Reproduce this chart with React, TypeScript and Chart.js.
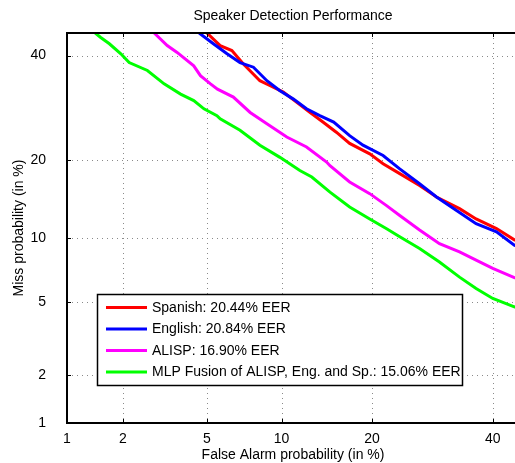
import React, { useEffect, useRef } from "react";
import { Chart, registerables } from "chart.js";

Chart.register(...registerables);

// ---- data (percent values) ----
const TITLE = "Speaker Detection Performance";
const X_LABEL = "False Alarm probability (in %)";
const Y_LABEL = "Miss probability (in %)";
const TICKS = [1, 2, 5, 10, 20, 40];
const AXIS_MIN = 1;
const AXIS_MAX = 45;

const SERIES_NAMES = [
  "Spanish: 20.44% EER",
  "English: 20.84% EER",
  "ALISP: 16.90% EER",
  "MLP Fusion of ALISP, Eng. and Sp.: 15.06% EER",
];
const SERIES_COLORS = ["#ff0000", "#0000ff", "#ff00ff", "#00ff00"];

const SPANISH_FA = [5.0, 5.7, 6.38, 7.11, 8.27, 9.06, 10.15, 11.33, 12.66, 14.0, 15.5, 17.1, 19.7, 21.55, 24.0, 27.1, 29.9, 33.9, 36.9, 40.7, 44.1, 45];
const SPANISH_MISS = [45, 42.2, 41.1, 38.2, 34.65, 33.6, 32.3, 30.3, 28.3, 26.5, 24.65, 22.7, 20.97, 19.4, 17.9, 16.2, 14.66, 13.2, 12.0, 10.95, 9.8, 9.65];

const ENGLISH_FA = [4.62, 5.33, 6.09, 6.89, 7.8, 8.8, 9.86, 11.05, 12.3, 13.66, 15.2, 17.1, 18.8, 21.55, 24.0, 27.1, 29.9, 33.3, 36.9, 40.7, 44.1, 45];
const ENGLISH_MISS = [45, 42.6, 40.4, 38.5, 37.5, 34.65, 32.6, 30.9, 29.0, 27.7, 26.5, 24.05, 22.4, 20.7, 18.6, 16.45, 14.66, 13.0, 11.47, 10.6, 9.3, 9.1];

const ALISP_FA = [2.86, 3.3, 3.67, 4.37, 4.68, 5.18, 5.55, 6.47, 7.57, 8.8, 10.45, 12.3, 14.4, 14.78, 17.1, 19.7, 22.0, 24.0, 27.1, 30.4, 33.9, 36.9, 40.0, 44.1, 45];
const ALISP_MISS = [45, 42.2, 40.7, 37.8, 35.7, 34.0, 32.9, 31.3, 28.3, 26.2, 23.8, 22.1, 19.66, 19.1, 16.7, 15.1, 13.6, 12.4, 10.8, 9.44, 8.67, 7.97, 7.3, 6.6, 6.5];

const FUSION_FA = [1.43, 1.53, 1.7, 1.95, 2.15, 2.65, 3.19, 3.81, 4.37, 4.85, 5.52, 5.7, 6.89, 8.27, 9.86, 11.65, 12.83, 14.78, 17.1, 19.7, 22.0, 24.0, 27.1, 30.4, 33.9, 36.9, 40.0, 44.1, 45];
const FUSION_MISS = [45, 44.0, 42.6, 40.4, 38.5, 36.8, 34.0, 31.9, 30.6, 29.0, 27.7, 27.1, 25.0, 22.4, 20.4, 18.36, 17.4, 15.3, 13.4, 12.0, 10.95, 10.1, 8.98, 7.81, 6.64, 5.85, 5.22, 4.74, 4.66];

const SERIES_FA = [SPANISH_FA, ENGLISH_FA, ALISP_FA, FUSION_FA];
const SERIES_MISS = [SPANISH_MISS, ENGLISH_MISS, ALISP_MISS, FUSION_MISS];

// ---- normal deviate transform (DET axes) ----
function probit(p: number): number {
  const a = [-3.969683028665376e1, 2.209460984245205e2, -2.759285104469687e2, 1.38357751867269e2, -3.066479806614716e1, 2.506628277459239];
  const b = [-5.447609879822406e1, 1.615858368580409e2, -1.556989798598866e2, 6.680131188771972e1, -1.328068155288572e1];
  const c = [-7.784894002430293e-3, -3.223964580411365e-1, -2.400758277161838, -2.549732539343734, 4.374664141464968, 2.938163982698783];
  const d = [7.784695709041462e-3, 3.224671290700398e-1, 2.445134137142996, 3.754408661907416];
  const plow = 0.02425;
  const phigh = 1 - plow;
  if (p < plow) {
    const q = Math.sqrt(-2 * Math.log(p));
    return (((((c[0] * q + c[1]) * q + c[2]) * q + c[3]) * q + c[4]) * q + c[5]) / ((((d[0] * q + d[1]) * q + d[2]) * q + d[3]) * q + 1);
  }
  if (p <= phigh) {
    const q = p - 0.5;
    const r = q * q;
    return ((((((a[0] * r + a[1]) * r + a[2]) * r + a[3]) * r + a[4]) * r + a[5]) * q) / (((((b[0] * r + b[1]) * r + b[2]) * r + b[3]) * r + b[4]) * r + 1);
  }
  const q = Math.sqrt(-2 * Math.log(1 - p));
  return -(((((c[0] * q + c[1]) * q + c[2]) * q + c[3]) * q + c[4]) * q + c[5]) / ((((d[0] * q + d[1]) * q + d[2]) * q + d[3]) * q + 1);
}
const tr = (pct: number) => probit(pct / 100);

const FONT = '"Liberation Sans", Arial, Helvetica, sans-serif';

const detPlugin = {
  id: "detDecor",
  beforeDatasetsDraw(chart: any) {
    const { ctx, chartArea } = chart;
    const { left, right, top, bottom } = chartArea;
    const xs = chart.scales.x;
    const ys = chart.scales.y;
    ctx.save();
    ctx.strokeStyle = "#8a8a8a";
    ctx.lineWidth = 1;
    ctx.setLineDash([1, 4]);
    TICKS.forEach((t) => {
      if (t === AXIS_MIN) return;
      const px = Math.round(xs.getPixelForValue(tr(t))) + 0.5;
      ctx.beginPath();
      ctx.moveTo(px, top);
      ctx.lineTo(px, bottom);
      ctx.stroke();
      const py = Math.round(ys.getPixelForValue(tr(t))) + 0.5;
      ctx.beginPath();
      ctx.moveTo(left, py);
      ctx.lineTo(right, py);
      ctx.stroke();
    });
    ctx.restore();
  },
  afterDatasetsDraw(chart: any) {
    const { ctx, chartArea } = chart;
    const { left, right, top, bottom } = chartArea;
    const xs = chart.scales.x;
    const ys = chart.scales.y;
    ctx.save();
    ctx.setLineDash([]);
    // inward ticks
    ctx.strokeStyle = "#000";
    ctx.lineWidth = 1;
    TICKS.forEach((t) => {
      const px = Math.round(xs.getPixelForValue(tr(t))) + 0.5;
      ctx.beginPath();
      ctx.moveTo(px, bottom);
      ctx.lineTo(px, bottom - 4);
      ctx.moveTo(px, top);
      ctx.lineTo(px, top + 4);
      ctx.stroke();
      const py = Math.round(ys.getPixelForValue(tr(t))) + 0.5;
      ctx.beginPath();
      ctx.moveTo(left, py);
      ctx.lineTo(left + 4, py);
      ctx.moveTo(right, py);
      ctx.lineTo(right - 4, py);
      ctx.stroke();
    });
    // axes box
    ctx.lineWidth = 2;
    ctx.strokeRect(left, top, right - left, bottom - top);

    // legend
    const lx = 97.5;
    const ly = 294.5;
    const lw = 365;
    const lh = 91;
    ctx.fillStyle = "#fff";
    ctx.fillRect(lx, ly, lw, lh);
    ctx.strokeStyle = "#000";
    ctx.lineWidth = 1.5;
    ctx.strokeRect(lx, ly, lw, lh);
    const rows = [307.5, 329, 350.5, 372];
    ctx.font = `14px ${FONT}`;
    ctx.textBaseline = "middle";
    ctx.textAlign = "left";
    SERIES_NAMES.forEach((name, i) => {
      ctx.strokeStyle = SERIES_COLORS[i];
      ctx.lineWidth = 3;
      ctx.beginPath();
      ctx.moveTo(106, rows[i]);
      ctx.lineTo(147, rows[i]);
      ctx.stroke();
      ctx.fillStyle = "#000";
      ctx.fillText(name, 152, rows[i] + 0.5);
    });

    // title & axis titles
    const cx = 293;
    ctx.fillStyle = "#000";
    ctx.textAlign = "center";
    ctx.textBaseline = "middle";
    ctx.font = `14px ${FONT}`;
    ctx.fillText(TITLE, cx, 16.5);
    ctx.fillText(X_LABEL, cx, 455);
    ctx.translate(19, (top + bottom) / 2);
    ctx.rotate(-Math.PI / 2);
    ctx.fillText(Y_LABEL, 0, 0);
    ctx.restore();
  },
};

export default function App() {
  const ref = useRef<HTMLCanvasElement | null>(null);

  useEffect(() => {
    if (!ref.current) return;
    const datasets = SERIES_NAMES.map((name, i) => ({
      label: name,
      data: SERIES_FA[i].map((fa, k) => ({ x: tr(fa), y: tr(SERIES_MISS[i][k]) })),
      borderColor: SERIES_COLORS[i],
      backgroundColor: SERIES_COLORS[i],
      borderWidth: 3,
      pointRadius: 0,
      tension: 0,
      fill: false,
      order: 4 - i,
    }));
    const tickScale = (axis: "x" | "y") => ({
      type: "linear" as const,
      position: axis === "x" ? "bottom" : "left",
      min: tr(AXIS_MIN),
      max: tr(AXIS_MAX),
      grid: { display: false },
      border: { display: false },
      afterBuildTicks: (scale: any) => {
        scale.ticks = TICKS.map((t) => ({ value: tr(t) }));
      },
      afterFit: (scale: any) => {
        if (axis === "x") scale.height = 40;
        else scale.width = 67;
      },
      ticks: {
        autoSkip: false,
        maxRotation: 0,
        padding: axis === "x" ? 0 : 13,
        color: "#000",
        font: { family: FONT, size: 14 },
        callback: (_v: any, idx: number) => String(TICKS[idx]),
      },
    });
    const chart = new Chart(ref.current, {
      type: "line",
      data: { datasets },
      options: {
        animation: false,
        responsive: false,
        devicePixelRatio: 1,
        layout: { padding: { left: 0, top: 33, right: 6, bottom: 0 } },
        plugins: { legend: { display: false }, title: { display: false }, tooltip: { enabled: false } },
        scales: { x: tickScale("x"), y: tickScale("y") } as any,
      },
      plugins: [detPlugin],
    });
    return () => chart.destroy();
  }, []);

  return (
    <div style={{ position: "fixed", left: 0, top: 0, width: 515, height: 463, overflow: "hidden", background: "#fff" }}>
      <canvas ref={ref} width={525} height={463} style={{ display: "block", width: 525, height: 463 }} />
    </div>
  );
}
